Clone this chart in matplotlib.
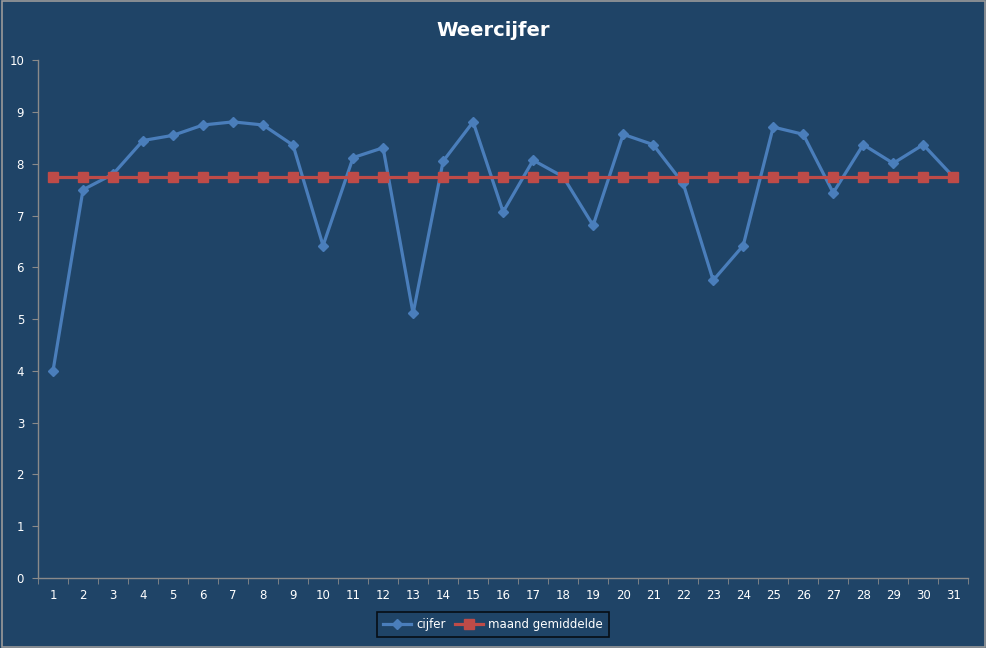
import matplotlib
matplotlib.use("Agg")
import matplotlib.pyplot as plt
from matplotlib.patches import Rectangle

days = list(range(1, 32))
cijfer = [4.0, 7.5, 7.8, 8.45, 8.55, 8.75, 8.81, 8.75, 8.36, 6.42, 8.12, 8.31, 5.11, 8.05, 8.81,
          7.07, 8.07, 7.75, 6.81, 8.57, 8.37, 7.62, 5.75, 6.42, 8.71, 8.57, 7.44, 8.37, 8.01, 8.37, 7.75]
gemiddelde = [7.75] * 31
yticks = list(range(0, 11))

bg = "#1F4467"
blue = "#4A7EBB"
red = "#BE4B48"
axc = "#8A8A8A"

fig = plt.figure(figsize=(9.87, 6.48), dpi=100, facecolor=bg)
fig.patches.append(Rectangle((0.002, 0.002), 0.996, 0.996, transform=fig.transFigure,
                             fill=False, edgecolor="#9A9A9A", linewidth=1.2))
ax = fig.add_axes([0.0385, 0.108, 0.9425, 0.799])
ax.set_facecolor(bg)

ax.plot(days, cijfer, color=blue, linewidth=2.3, marker="D", markersize=5,
        markerfacecolor=blue, markeredgecolor=blue, label="cijfer", zorder=2)
ax.plot(days, gemiddelde, color=red, linewidth=2.3, marker="s", markersize=6.5,
        markerfacecolor=red, markeredgecolor=red, label="maand gemiddelde", zorder=3)

ax.set_xlim(0.5, 31.5)
ax.set_ylim(0, 10)
ax.set_yticks(yticks)
ax.set_xticks(days)
ax.set_xticks([d + 0.5 for d in range(0, 32)], minor=True)
ax.tick_params(axis="x", which="major", length=0, pad=8, labelcolor="white", labelsize=8.5)
ax.tick_params(axis="x", which="minor", length=4, color=axc, direction="out")
ax.tick_params(axis="y", length=4, color=axc, direction="out", labelcolor="white", labelsize=8.5, pad=6)

for s in ["top", "right"]:
    ax.spines[s].set_visible(False)
for s in ["left", "bottom"]:
    ax.spines[s].set_color(axc)
    ax.spines[s].set_linewidth(1)

fig.text(0.5, 0.953, "Weercijfer", ha="center", va="center", color="white",
         fontsize=14, fontweight="bold")

leg = fig.legend(loc="center", bbox_to_anchor=(0.4995, 0.0365), ncol=2, frameon=True,
                 fontsize=8.5, labelcolor="white", handlelength=2.4, handletextpad=0.4,
                 columnspacing=0.8, borderpad=0.5, fancybox=False)
leg.get_frame().set_facecolor(bg)
leg.get_frame().set_edgecolor("black")
leg.get_frame().set_linewidth(1.2)

fig.savefig("out.png", dpi=100, facecolor=bg)
